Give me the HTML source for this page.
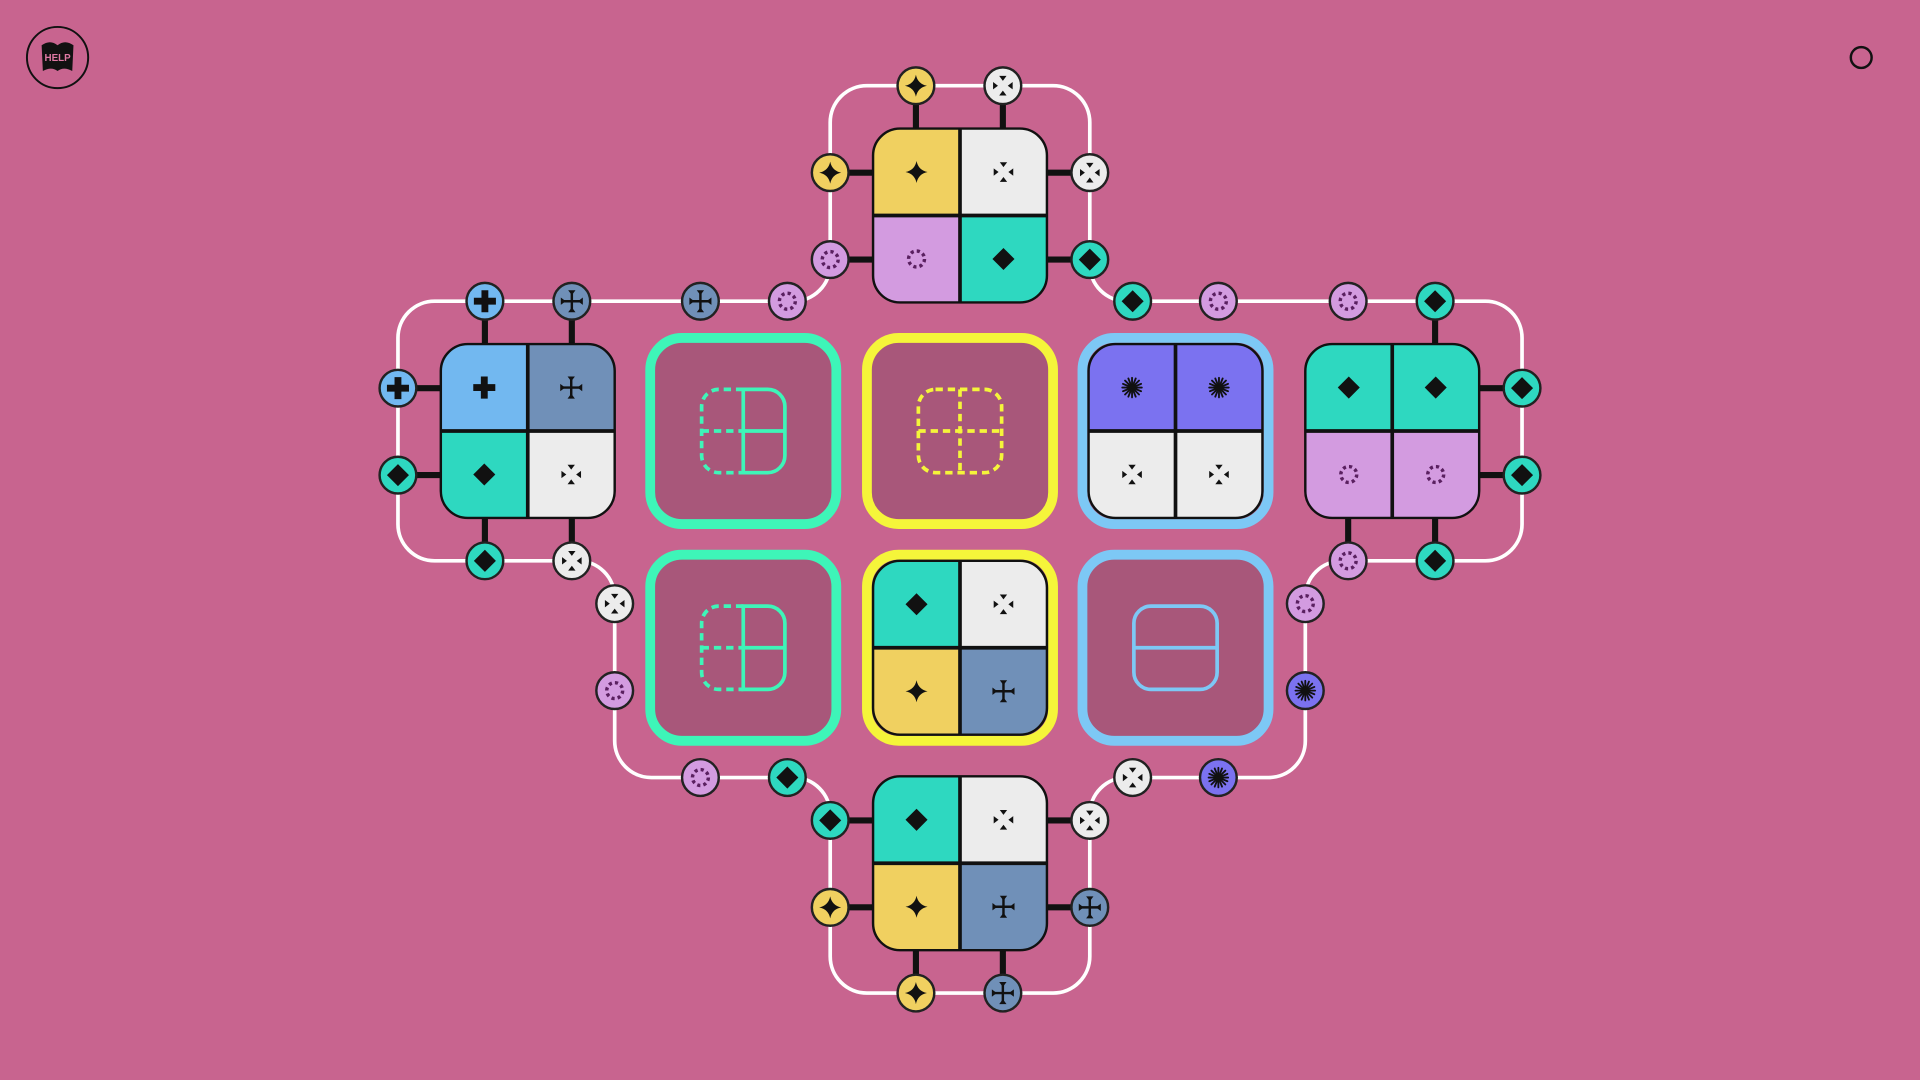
<!DOCTYPE html>
<html><head><meta charset="utf-8"><style>
html,body{margin:0;padding:0;background:#c8648f;}
svg{display:block}
</style></head><body>
<svg width="1920" height="1080" viewBox="0 0 1568 882" preserveAspectRatio="none" xmlns="http://www.w3.org/2000/svg">
<defs>
<g id="star"><path d="M0,-9 Q1.5,-1.5 9,0 Q1.5,1.5 0,9 Q-1.5,1.5 -9,0 Q-1.5,-1.5 0,-9Z" fill="#111"/></g>
<g id="arr" fill="#111"><polygon points="-3,-8 3,-8 0,-4"/><polygon points="-3,8 3,8 0,4"/><polygon points="-8,-3 -8,3 -4,0"/><polygon points="8,-3 8,3 4,0"/></g>
<g id="dots"><circle r="6.5" fill="none" stroke="#5a2060" stroke-width="2.8" stroke-dasharray="2.6 2.5"/></g>
<g id="dia"><polygon points="0,-9 9,0 0,9 -9,0" fill="#111"/></g>
<g id="plus"><path d="M-2.8,-9h5.6v6.2h6.2v5.6h-6.2v6.2h-5.6v-6.2h-6.2v-5.6h6.2z" fill="#111"/></g>
<g id="crs" stroke="#111" stroke-width="2"><line x1="0" y1="-8" x2="0" y2="8"/><line x1="-8" y1="0" x2="8" y2="0"/><g fill="#111" stroke="none"><polygon points="-3,-9 3,-9 0,-5"/><polygon points="-3,9 3,9 0,5"/><polygon points="-9,-3 -9,3 -5,0"/><polygon points="9,-3 9,3 5,0"/></g></g>
<g id="burst" stroke="#111" stroke-width="1.5" stroke-linecap="round"><line x1="0" y1="-8" x2="0" y2="8"/><line x1="-8" y1="0" x2="8" y2="0"/><line x1="-5.7" y1="-5.7" x2="5.7" y2="5.7"/><line x1="-5.7" y1="5.7" x2="5.7" y2="-5.7"/><line x1="-3" y1="-7.4" x2="3" y2="7.4"/><line x1="3" y1="-7.4" x2="-3" y2="7.4"/><line x1="-7.4" y1="-3" x2="7.4" y2="3"/><line x1="-7.4" y1="3" x2="7.4" y2="-3"/></g>

<g id="nY"><circle r="15" fill="#f0d060" stroke="#222" stroke-width="2"/><use href="#star"/></g>
<g id="nW"><circle r="15" fill="#ececec" stroke="#222" stroke-width="2"/><use href="#arr"/></g>
<g id="nL"><circle r="15" fill="#d39be0" stroke="#222" stroke-width="2"/><use href="#dots"/></g>
<g id="nT"><circle r="15" fill="#2ed8c0" stroke="#222" stroke-width="2"/><use href="#dia"/></g>
<g id="nB"><circle r="15" fill="#72b8f0" stroke="#222" stroke-width="2"/><use href="#plus"/></g>
<g id="nS"><circle r="15" fill="#7090b8" stroke="#222" stroke-width="2"/><use href="#crs"/></g>
<g id="nP"><circle r="15" fill="#7b72f0" stroke="#222" stroke-width="2"/><use href="#burst"/></g>
<clipPath id="tc"><rect x="-71" y="-71" width="142" height="142" rx="22"/></clipPath>
</defs>

<circle cx="47" cy="47" r="25" fill="none" stroke="#111" stroke-width="1.6"/>
<path d="M34,37 Q41,32 47,37 Q53,32 60,37 L59,58 Q52,54 47,58 Q42,54 35,58 Z" fill="#111"/>
<text x="47" y="50" font-family="Liberation Sans, sans-serif" font-weight="bold" font-size="8" fill="#e07aa5" text-anchor="middle">HELP</text>
<circle cx="1520" cy="47" r="8.5" fill="none" stroke="#111" stroke-width="2"/>

<path d="M355,246 A30 30 0 0 0 325,276 V428 A30 30 0 0 0 355,458 H472 A30 30 0 0 1 502,488 V605 A30 30 0 0 0 532,635 H648 A30 30 0 0 1 678,665 V781 A30 30 0 0 0 708,811 H860 A30 30 0 0 0 890,781 V665 A30 30 0 0 1 920,635 H1036 A30 30 0 0 0 1066,605 V488 A30 30 0 0 1 1096,458 H1213 A30 30 0 0 0 1243,428 V276 A30 30 0 0 0 1213,246 H920 A30 30 0 0 1 890,216 V100 A30 30 0 0 0 860,70 H708 A30 30 0 0 0 678,100 V216 A30 30 0 0 1 648,246 Z" fill="none" stroke="#fff" stroke-width="3"/>

<g stroke="#111" stroke-width="5">
<line x1="748" y1="70" x2="748" y2="105"/><line x1="819" y1="70" x2="819" y2="105"/>
<line x1="678" y1="141" x2="713" y2="141"/><line x1="678" y1="212" x2="713" y2="212"/>
<line x1="890" y1="141" x2="855" y2="141"/><line x1="890" y1="212" x2="855" y2="212"/>
<line x1="396" y1="246" x2="396" y2="281"/><line x1="467" y1="246" x2="467" y2="281"/>
<line x1="325" y1="317" x2="360" y2="317"/><line x1="325" y1="388" x2="360" y2="388"/>
<line x1="396" y1="458" x2="396" y2="423"/><line x1="467" y1="458" x2="467" y2="423"/>
<line x1="1243" y1="317" x2="1208" y2="317"/><line x1="1243" y1="388" x2="1208" y2="388"/>
<line x1="1101" y1="458" x2="1101" y2="423"/><line x1="1172" y1="458" x2="1172" y2="423"/>
<line x1="1172" y1="246" x2="1172" y2="281"/>
<line x1="678" y1="670" x2="713" y2="670"/><line x1="678" y1="741" x2="713" y2="741"/>
<line x1="748" y1="811" x2="748" y2="776"/><line x1="819" y1="811" x2="819" y2="776"/>
<line x1="890" y1="670" x2="855" y2="670"/><line x1="890" y1="741" x2="855" y2="741"/>
</g>

<g fill="#a8577a" stroke-width="8">
<rect x="531" y="276" width="152" height="152" rx="26" stroke="#3ef5b8"/>
<rect x="708" y="276" width="152" height="152" rx="26" stroke="#f5f53a"/>
<rect x="884" y="276" width="152" height="152" rx="26" stroke="#7dc8f5"/>
<rect x="531" y="453" width="152" height="152" rx="26" stroke="#3ef5b8"/>
<rect x="708" y="453" width="152" height="152" rx="26" stroke="#f5f53a"/>
<rect x="884" y="453" width="152" height="152" rx="26" stroke="#7dc8f5"/>
</g>

<g fill="none" stroke="#3ef5b8" stroke-width="3">
<path d="M607,318 H627 A14 14 0 0 1 641,332 V372 A14 14 0 0 1 627,386 H607 Z M607,352 H641"/>
<path d="M607,318 H587 A14 14 0 0 0 573,332 V372 A14 14 0 0 0 587,386 H607 M573,352 H607" stroke-dasharray="6 4"/>
<path d="M607,495 H627 A14 14 0 0 1 641,509 V549 A14 14 0 0 1 627,563 H607 Z M607,529 H641"/>
<path d="M607,495 H587 A14 14 0 0 0 573,509 V549 A14 14 0 0 0 587,563 H607 M573,529 H607" stroke-dasharray="6 4"/>
</g>
<g fill="none" stroke="#f5f53a" stroke-width="3" stroke-dasharray="6 4">
<rect x="750" y="318" width="68" height="68" rx="14"/>
<path d="M784,318 V386 M750,352 H818"/>
</g>
<g fill="none" stroke="#7dc8f5" stroke-width="3">
<rect x="926" y="495" width="68" height="68" rx="14"/>
<path d="M926,529 H994"/>
</g>

<g transform="translate(784,176)">
<g clip-path="url(#tc)"><rect x="-71" y="-71" width="71" height="71" fill="#f0d060"/><rect x="0" y="-71" width="71" height="71" fill="#ececec"/><rect x="-71" y="0" width="71" height="71" fill="#d39be0"/><rect x="0" y="0" width="71" height="71" fill="#2ed8c0"/></g>
<path d="M0,-71V71M-71,0H71" stroke="#111" stroke-width="3"/><rect x="-71" y="-71" width="142" height="142" rx="22" fill="none" stroke="#111" stroke-width="2"/>
<use href="#star" x="-35.5" y="-35.5"/><use href="#arr" x="35.5" y="-35.5"/><use href="#dots" x="-35.5" y="35.5"/><use href="#dia" x="35.5" y="35.5"/>
</g>
<g transform="translate(431,352)">
<g clip-path="url(#tc)"><rect x="-71" y="-71" width="71" height="71" fill="#72b8f0"/><rect x="0" y="-71" width="71" height="71" fill="#7090b8"/><rect x="-71" y="0" width="71" height="71" fill="#2ed8c0"/><rect x="0" y="0" width="71" height="71" fill="#ececec"/></g>
<path d="M0,-71V71M-71,0H71" stroke="#111" stroke-width="3"/><rect x="-71" y="-71" width="142" height="142" rx="22" fill="none" stroke="#111" stroke-width="2"/>
<use href="#plus" x="-35.5" y="-35.5"/><use href="#crs" x="35.5" y="-35.5"/><use href="#dia" x="-35.5" y="35.5"/><use href="#arr" x="35.5" y="35.5"/>
</g>
<g transform="translate(960,352)">
<g clip-path="url(#tc)"><rect x="-71" y="-71" width="71" height="71" fill="#7b72f0"/><rect x="0" y="-71" width="71" height="71" fill="#7b72f0"/><rect x="-71" y="0" width="71" height="71" fill="#ececec"/><rect x="0" y="0" width="71" height="71" fill="#ececec"/></g>
<path d="M0,-71V71M-71,0H71" stroke="#111" stroke-width="3"/><rect x="-71" y="-71" width="142" height="142" rx="22" fill="none" stroke="#111" stroke-width="2"/>
<use href="#burst" x="-35.5" y="-35.5"/><use href="#burst" x="35.5" y="-35.5"/><use href="#arr" x="-35.5" y="35.5"/><use href="#arr" x="35.5" y="35.5"/>
</g>
<g transform="translate(1137,352)">
<g clip-path="url(#tc)"><rect x="-71" y="-71" width="71" height="71" fill="#2ed8c0"/><rect x="0" y="-71" width="71" height="71" fill="#2ed8c0"/><rect x="-71" y="0" width="71" height="71" fill="#d39be0"/><rect x="0" y="0" width="71" height="71" fill="#d39be0"/></g>
<path d="M0,-71V71M-71,0H71" stroke="#111" stroke-width="3"/><rect x="-71" y="-71" width="142" height="142" rx="22" fill="none" stroke="#111" stroke-width="2"/>
<use href="#dia" x="-35.5" y="-35.5"/><use href="#dia" x="35.5" y="-35.5"/><use href="#dots" x="-35.5" y="35.5"/><use href="#dots" x="35.5" y="35.5"/>
</g>
<g transform="translate(784,529)">
<g clip-path="url(#tc)"><rect x="-71" y="-71" width="71" height="71" fill="#2ed8c0"/><rect x="0" y="-71" width="71" height="71" fill="#ececec"/><rect x="-71" y="0" width="71" height="71" fill="#f0d060"/><rect x="0" y="0" width="71" height="71" fill="#7090b8"/></g>
<path d="M0,-71V71M-71,0H71" stroke="#111" stroke-width="3"/><rect x="-71" y="-71" width="142" height="142" rx="22" fill="none" stroke="#111" stroke-width="2"/>
<use href="#dia" x="-35.5" y="-35.5"/><use href="#arr" x="35.5" y="-35.5"/><use href="#star" x="-35.5" y="35.5"/><use href="#crs" x="35.5" y="35.5"/>
</g>
<g transform="translate(784,705)">
<g clip-path="url(#tc)"><rect x="-71" y="-71" width="71" height="71" fill="#2ed8c0"/><rect x="0" y="-71" width="71" height="71" fill="#ececec"/><rect x="-71" y="0" width="71" height="71" fill="#f0d060"/><rect x="0" y="0" width="71" height="71" fill="#7090b8"/></g>
<path d="M0,-71V71M-71,0H71" stroke="#111" stroke-width="3"/><rect x="-71" y="-71" width="142" height="142" rx="22" fill="none" stroke="#111" stroke-width="2"/>
<use href="#dia" x="-35.5" y="-35.5"/><use href="#arr" x="35.5" y="-35.5"/><use href="#star" x="-35.5" y="35.5"/><use href="#crs" x="35.5" y="35.5"/>
</g>

<use href="#nY" x="748" y="70"/><use href="#nW" x="819" y="70"/>
<use href="#nY" x="678" y="141"/><use href="#nL" x="678" y="212"/>
<use href="#nW" x="890" y="141"/><use href="#nT" x="890" y="212"/>
<use href="#nB" x="396" y="246"/><use href="#nS" x="467" y="246"/>
<use href="#nS" x="572" y="246"/><use href="#nL" x="643" y="246"/>
<use href="#nT" x="925" y="246"/><use href="#nL" x="995" y="246"/>
<use href="#nL" x="1101" y="246"/><use href="#nT" x="1172" y="246"/>
<use href="#nB" x="325" y="317"/><use href="#nT" x="325" y="388"/>
<use href="#nT" x="396" y="458"/><use href="#nW" x="467" y="458"/>
<use href="#nT" x="1243" y="317"/><use href="#nT" x="1243" y="388"/>
<use href="#nL" x="1101" y="458"/><use href="#nT" x="1172" y="458"/>
<use href="#nW" x="502" y="493"/><use href="#nL" x="502" y="564"/>
<use href="#nL" x="572" y="635"/><use href="#nT" x="643" y="635"/>
<use href="#nL" x="1066" y="493"/><use href="#nP" x="1066" y="564"/>
<use href="#nW" x="925" y="635"/><use href="#nP" x="995" y="635"/>
<use href="#nT" x="678" y="670"/><use href="#nY" x="678" y="741"/>
<use href="#nY" x="748" y="811"/><use href="#nS" x="819" y="811"/>
<use href="#nW" x="890" y="670"/><use href="#nS" x="890" y="741"/>
</svg>
</body></html>
